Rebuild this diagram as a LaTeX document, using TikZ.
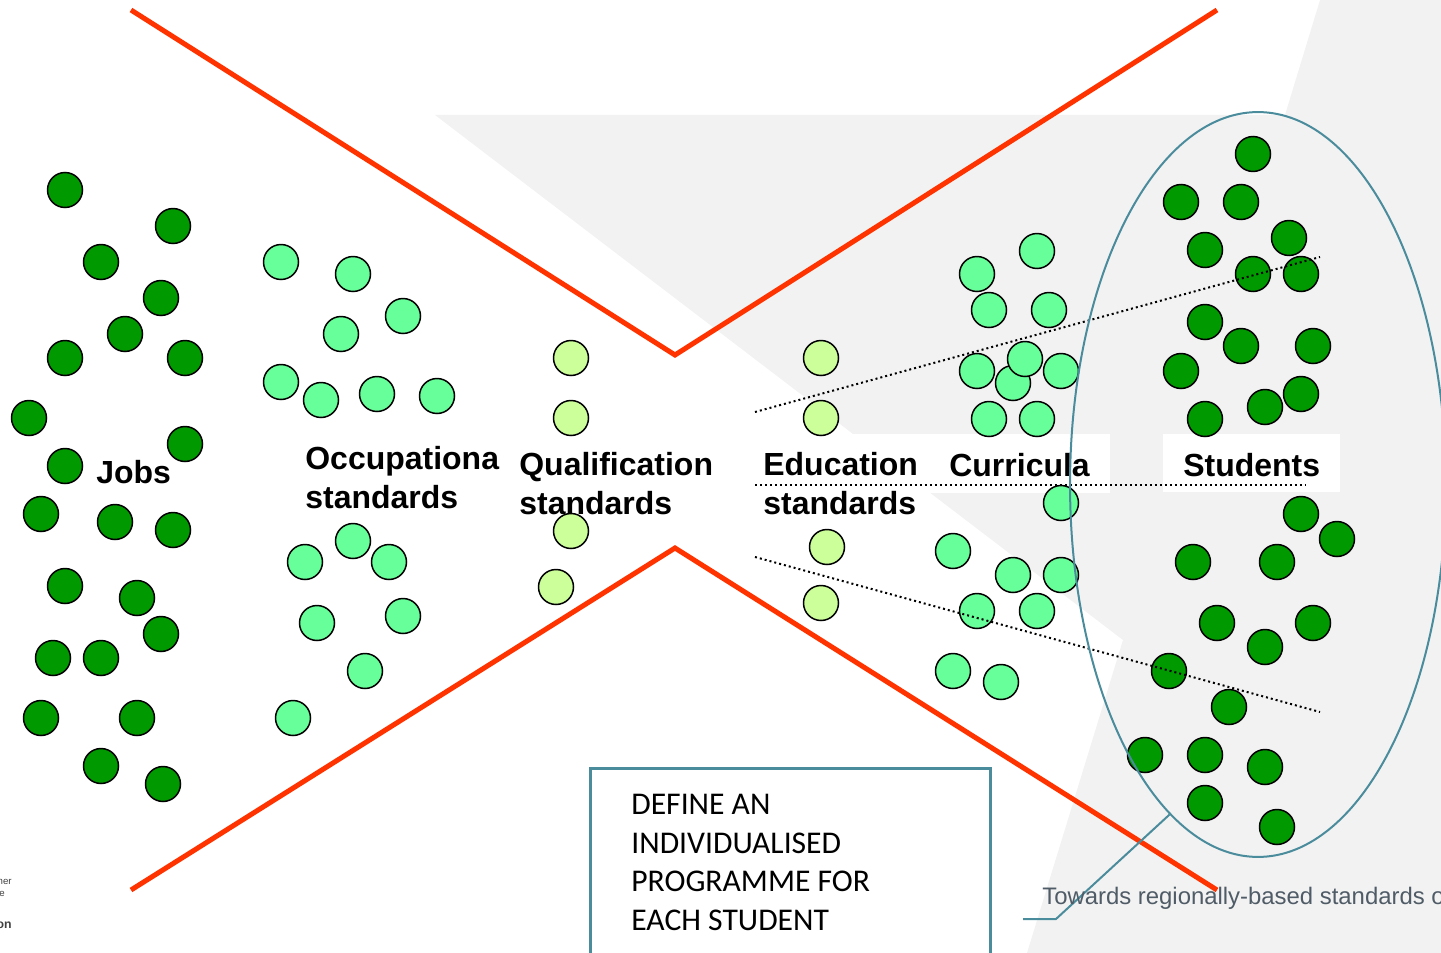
\documentclass[tikz,border=0pt]{standalone}
\usepackage{fontspec}
\setmainfont{Liberation Sans}
\newfontfamily\calibri{Carlito}
\usepackage{tikz}
\usetikzlibrary{shapes.geometric}

\definecolor{jobgreen}{HTML}{009900}
\definecolor{stdgreen}{HTML}{66FF99}
\definecolor{qualgreen}{HTML}{CCFF99}
\definecolor{funnelred}{HTML}{FF3300}
\definecolor{edgeteal}{HTML}{4A8C9C}
\definecolor{bggray}{HTML}{F2F2F2}
\definecolor{notegray}{HTML}{4F5B66}

\begin{document}
\begin{tikzpicture}[x=0.02cm,y=-0.02cm]
    \tikzset{ball/.style={circle,draw,line width=0.03cm,minimum size=0.7cm,inner sep=0pt},
      darkball/.style={ball,fill=jobgreen},
      midball/.style={ball,fill=stdgreen},
      lightball/.style={ball,fill=qualgreen},
      tag/.style={font={\fontsize{18.2}{21.8}\selectfont\bfseries},align=left,anchor=base west,inner sep=0pt},
      funnel/.style={draw=funnelred,line width=0.1cm},
      split/.style={draw,line width=0.04cm,dash pattern=on 0.04cm off 0.06cm},
      callout/.style={draw=edgeteal,line width=0.04cm}}
    \useasboundingbox (0,0) rectangle (1441,953);
    % backdrop
    \fill[bggray] (1320,0) -- (1441,0) -- (1441,953) -- (1027,953) -- (1123,640) -- (435,115) -- (1285,115) -- cycle;
    \fill[white] (755,434) rectangle (1110,493);
    \fill[white] (1163,434) rectangle (1340,492);
    % funnel
    \coordinate (tl) at (131,10);
    \coordinate (tc) at (675,355);
    \coordinate (tr) at (1217,10);
    \coordinate (bl) at (131,890);
    \coordinate (bc) at (675,548);
    \coordinate (br) at (1217,890);
    \draw[funnel] (tl) -- (tc) -- (tr);
    \draw[funnel] (bl) -- (bc) -- (br);
    % jobs
    \foreach \x/\y [count=\i] in {65/190,173/226,101/262,161/298,125/334,65/358,185/358,29/418,185/444,65/466,41/514,115/522,173/530,65/586,137/598,161/634,53/658,101/658,41/718,137/718,101/766,163/784}
      \node[darkball] (job\i) at (\x,\y) {};
    % occupational standards
    \foreach \x/\y [count=\i] in {281/262,353/274,403/316,341/334,281/382,321/400,377/394,437/396,353/541,305/562,389/562,317/623,403/616,365/671,293/718}
      \node[midball] (occ\i) at (\x,\y) {};
    % qualification and education standards
    \foreach \x/\y [count=\i] in {571/358,571/418,571/531,556/587}
      \node[lightball] (qual\i) at (\x,\y) {};
    \foreach \x/\y [count=\i] in {821/358,821/418,827/547,821/603}
      \node[lightball] (edu\i) at (\x,\y) {};
    % curricula
    \foreach \x/\y [count=\i] in {1037/251,977/274,989/310,1049/310,977/371,1013/383,1025/359,1061/371,989/419,1037/419,1061/503,953/551,1013/575,1061/575,977/611,1037/611,953/671,1001/682}
      \node[midball] (cur\i) at (\x,\y) {};
    % students
    \foreach \x/\y [count=\i] in {1253/154,1181/202,1241/202,1205/250,1289/238,1253/274,1301/274,1205/322,1241/346,1313/346,1181/371,1301/394,1265/407,1205/419,1301/514,1337/539,1193/562,1277/562,1217/623,1313/623,1265/647,1169/671,1229/707,1145/755,1205/755,1265/767,1205/803,1277/827}
      \node[darkball] (stu\i) at (\x,\y) {};
    % dividers
    \coordinate (u1) at (755,412);
    \coordinate (u2) at (1320,257);
    \coordinate (m1) at (755,485);
    \coordinate (m2) at (1305,485);
    \coordinate (l1) at (755,557);
    \coordinate (l2) at (1320,712);
    \draw[split] (u1) -- (u2);
    \draw[split] (m1) -- (m2);
    \draw[split] (l1) -- (l2);
    % labels
    \node[tag] (jobs) at (96,483) {Jobs};
    \node[tag] (occ) at (305,508) {Occupationa\\standards};
    \node[tag] (qual) at (519,514) {Qualification\\standards};
    \node[tag] (edu) at (763,514) {Education\\standards};
    \node[tag] (cur) at (949,476) {Curricula};
    \node[tag] (stu) at (1183,476) {Students};
    % student group
    \node[ellipse,draw=edgeteal,line width=0.04cm,minimum width=7.52cm,minimum height=14.9cm,inner sep=0pt] (grp) at (1258,484.5) {};
    \coordinate (bend) at (1056,919);
    \coordinate (tail) at (1023,919);
    \draw[callout] (grp.255) -- (bend) -- (tail);
    \node[anchor=base west,inner sep=0pt,text=notegray,font={\fontsize{13.6}{16}\selectfont}] (towards) at (1042,904) {Towards regionally-based standards o};
    % task box
    \node[draw=edgeteal,line width=0.06cm,fill=white,anchor=north west,minimum width=8cm,minimum height=4cm,inner sep=0pt] (task) at (589,767) {};
    \node[anchor=base west,inner sep=0pt,align=left,font={\calibri\fontsize{18}{21.9}\selectfont}] (tasktext) at (631,930) {DEFINE AN\\INDIVIDUALISED\\PROGRAMME FOR\\EACH STUDENT};
    % cut-off logo text
    \node[anchor=base east,inner sep=0pt,text=darkgray,font={\fontsize{5.5}{6}\selectfont}] (frag1) at (12,884) {ner};
    \node[anchor=base east,inner sep=0pt,text=darkgray,font={\fontsize{5.5}{6}\selectfont}] (frag2) at (5,896) {e};
    \node[anchor=base east,inner sep=0pt,text=darkgray,font={\fontsize{7}{8}\selectfont\bfseries}] (frag3) at (12,928) {on};
\end{tikzpicture}
\end{document}
